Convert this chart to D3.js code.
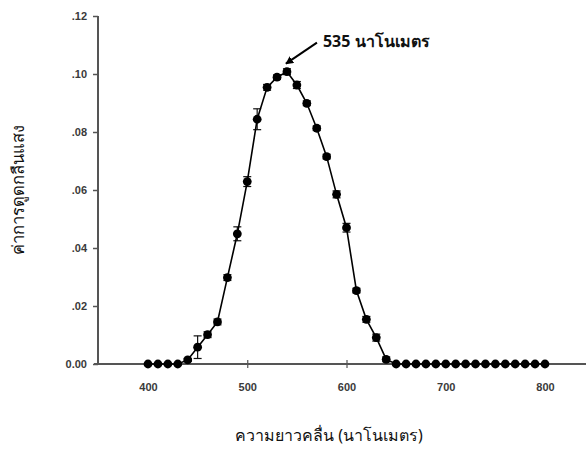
<!DOCTYPE html>
<html lang="th">
<head>
  <meta charset="UTF-8">
  <title>ค่าการดูดกลืนแสง</title>
  <script src="https://d3js.org/d3.v7.min.js"></script>
  <style>
    body { margin: 0; background: #fff; }
    svg { display: block; }
    .tick-label { font-family: "Liberation Sans", Arial, sans-serif; font-size: 11px; font-weight: bold; fill: #3a3a3a; }
    .thai { font-family: "Noto Sans", "DejaVu Sans", sans-serif; fill: #111; }
  </style>
</head>
<body>
  <div id="chart"></div>
  <script>
    // wavelength (nm)
    const wavelengths = [400, 410, 420, 430, 440, 450, 460, 470, 480, 490, 500, 510, 520, 530, 540, 550,
      560, 570, 580, 590, 600, 610, 620, 630, 640, 650, 660, 670, 680, 690, 700, 710, 720, 730, 740,
      750, 760, 770, 780, 790, 800];
    // absorbance
    const absorbance = [0, 0, 0, 0, 0.0014, 0.0058, 0.0101, 0.0145, 0.0298, 0.0449, 0.0629, 0.0844,
      0.0954, 0.0989, 0.1008, 0.0962, 0.0899, 0.0813, 0.0715, 0.0585, 0.0470, 0.0253, 0.0154, 0.0091,
      0.0016, 0, 0, 0, 0, 0, 0, 0, 0, 0, 0, 0, 0, 0, 0, 0, 0];
    // error (+/-)
    const errors = [0, 0, 0, 0, 0.0005, 0.0039, 0.001, 0.001, 0.001, 0.0024, 0.0017, 0.0036,
      0.001, 0.0008, 0.001, 0.0012, 0.0008, 0.0008, 0.0008, 0.0012, 0.0015, 0.0008, 0.001, 0.0012,
      0.0008, 0, 0, 0, 0, 0, 0, 0, 0, 0, 0, 0, 0, 0, 0, 0, 0];
    const xTicks = [400, 500, 600, 700, 800];
    const yTicks = [0, 0.02, 0.04, 0.06, 0.08, 0.10, 0.12];
    const peakLabel = '535 นาโนเมตร';
    const peakAt = 540;

    const W = 586, H = 454;
    const svg = d3.select('#chart').append('svg').attr('width', W).attr('height', H);

    const x = d3.scaleLinear().domain([400, 800]).range([148, 545]);
    const y = d3.scaleLinear().domain([0, 0.12]).range([364, 16]);
    const axisX = 98;

    const data = wavelengths.map((w, i) => ({ w, v: absorbance[i], e: errors[i] }));
    const axisColor = '#555';

    // x axis
    const gx = svg.append('g').attr('transform', `translate(0,${y(0)})`)
      .call(d3.axisBottom(x).tickValues(xTicks).tickSize(4).tickPadding(20).tickFormat(d3.format('d')));
    gx.select('.domain').remove();
    gx.append('line').attr('x1', axisX - 4).attr('x2', W).attr('stroke', axisColor).attr('stroke-width', 2);
    gx.selectAll('.tick line').attr('y1', -4).attr('stroke', axisColor).attr('stroke-width', 1.2);
    gx.selectAll('.tick text').attr('class', 'tick-label').attr('dy', '0.3em');

    // y axis
    const gy = svg.append('g').attr('transform', `translate(${axisX},0)`)
      .call(d3.axisLeft(y).tickValues(yTicks).tickSize(5).tickPadding(6)
        .tickFormat(d => d === 0 ? '0.00' : d3.format('.2f')(d).replace(/^0/, '')));
    gy.select('.domain').remove();
    gy.append('line').attr('y1', y(0.12)).attr('y2', y(0)).attr('stroke', axisColor).attr('stroke-width', 2);
    gy.selectAll('.tick line').attr('stroke', axisColor).attr('stroke-width', 1.5);
    gy.selectAll('.tick text').attr('class', 'tick-label');

    // error bars
    const eb = svg.append('g').attr('stroke', '#111').attr('stroke-width', 1.2);
    data.filter(d => d.e > 0).forEach(d => {
      eb.append('line').attr('x1', x(d.w)).attr('x2', x(d.w)).attr('y1', y(d.v - d.e)).attr('y2', y(d.v + d.e));
      [d.v - d.e, d.v + d.e].forEach(v => {
        eb.append('line').attr('x1', x(d.w) - 4).attr('x2', x(d.w) + 4).attr('y1', y(v)).attr('y2', y(v));
      });
    });

    // line
    svg.append('path').datum(data)
      .attr('fill', 'none').attr('stroke', '#000').attr('stroke-width', 1.6)
      .attr('d', d3.line().x(d => x(d.w)).y(d => y(d.v)));

    // markers
    svg.append('g').selectAll('circle').data(data).join('circle')
      .attr('cx', d => x(d.w)).attr('cy', d => y(d.v)).attr('r', 4.4).attr('fill', '#000');

    // annotation
    svg.append('defs').append('marker').attr('id', 'arr')
      .attr('viewBox', '0 0 10 10').attr('refX', 9).attr('refY', 5)
      .attr('markerWidth', 4).attr('markerHeight', 4).attr('orient', 'auto')
      .append('path').attr('d', 'M0,0L10,5L0,10z').attr('fill', '#000');
    const peak = data.find(d => d.w === peakAt);
    svg.append('line')
      .attr('x1', x(peakAt) + 30).attr('y1', y(peak.v) - 29)
      .attr('x2', x(peakAt) - 1).attr('y2', y(peak.v) - 8)
      .attr('stroke', '#000').attr('stroke-width', 2).attr('marker-end', 'url(#arr)');
    svg.append('text').attr('class', 'thai')
      .attr('x', x(peakAt) + 36).attr('y', y(peak.v) - 25)
      .attr('font-size', 16).attr('font-weight', 'bold')
      .text(peakLabel);

    // axis titles
    svg.append('text').attr('class', 'thai')
      .attr('x', 329).attr('y', 441).attr('text-anchor', 'middle').attr('font-size', 16)
      .text('ความยาวคลื่น (นาโนเมตร)');
    svg.append('text').attr('class', 'thai')
      .attr('transform', 'translate(24,190) rotate(-90)').attr('text-anchor', 'middle').attr('font-size', 16.5)
      .text('ค่าการดูดกลืนแสง');
  </script>
</body>
</html>
